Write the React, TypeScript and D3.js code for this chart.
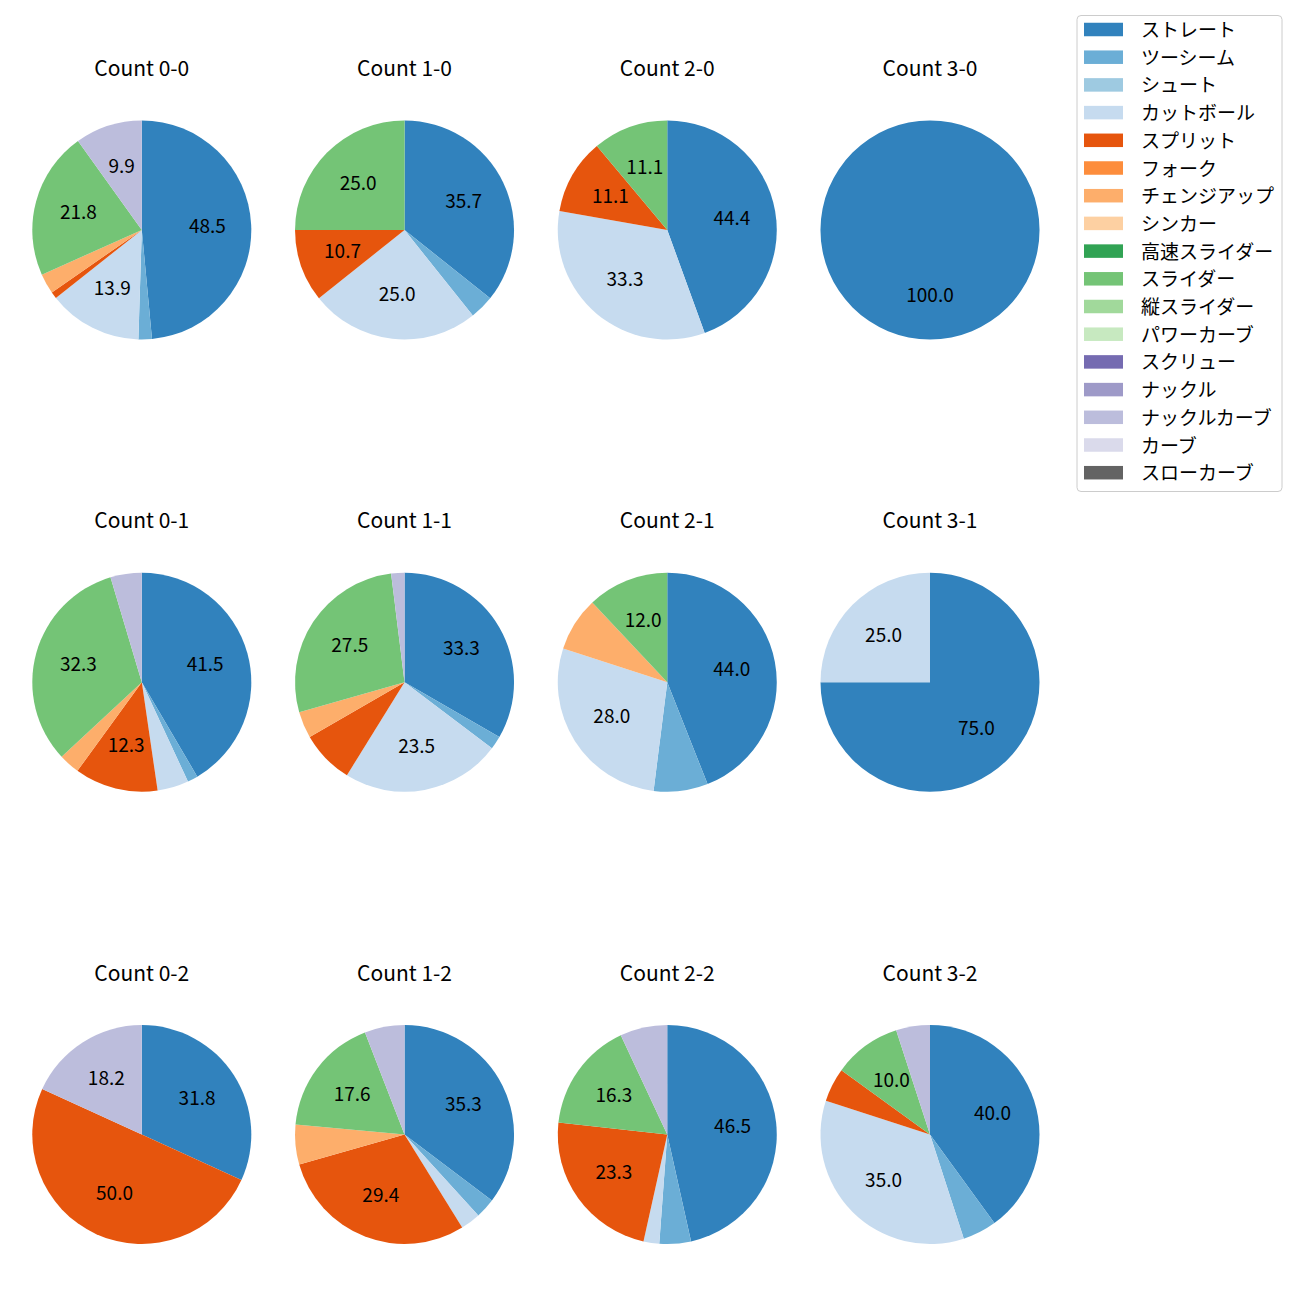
import React from "react";
import * as d3 from "d3";

const pitchTypes = [
  "ストレート", "ツーシーム", "シュート", "カットボール", "スプリット", "フォーク",
  "チェンジアップ", "シンカー", "高速スライダー", "スライダー", "縦スライダー",
  "パワーカーブ", "スクリュー", "ナックル", "ナックルカーブ", "カーブ", "スローカーブ",
];
const pitchColors = [
  "#3182bd", "#6baed6", "#9ecae1", "#c6dbef", "#e6550d", "#fd8d3c",
  "#fdae6b", "#fdd0a2", "#31a354", "#74c476", "#a1d99b",
  "#c7e9c0", "#756bb1", "#9e9ac8", "#bcbddc", "#dadaeb", "#636363",
];

// pitch counts per ball-strike count, in pitchTypes order
const count00 = [49, 2, 0, 14, 1, 0, 3, 0, 0, 22, 0, 0, 0, 0, 10, 0, 0];
const count10 = [10, 1, 0, 7, 3, 0, 0, 0, 0, 7, 0, 0, 0, 0, 0, 0, 0];
const count20 = [4, 0, 0, 3, 1, 0, 0, 0, 0, 1, 0, 0, 0, 0, 0, 0, 0];
const count30 = [1, 0, 0, 0, 0, 0, 0, 0, 0, 0, 0, 0, 0, 0, 0, 0, 0];
const count01 = [27, 1, 0, 3, 8, 0, 2, 0, 0, 21, 0, 0, 0, 0, 3, 0, 0];
const count11 = [17, 1, 0, 12, 4, 0, 2, 0, 0, 14, 0, 0, 0, 0, 1, 0, 0];
const count21 = [11, 2, 0, 7, 0, 0, 2, 0, 0, 3, 0, 0, 0, 0, 0, 0, 0];
const count31 = [3, 0, 0, 1, 0, 0, 0, 0, 0, 0, 0, 0, 0, 0, 0, 0, 0];
const count02 = [7, 0, 0, 0, 11, 0, 0, 0, 0, 0, 0, 0, 0, 0, 4, 0, 0];
const count12 = [12, 1, 0, 1, 10, 0, 2, 0, 0, 6, 0, 0, 0, 0, 2, 0, 0];
const count22 = [20, 2, 0, 1, 10, 0, 0, 0, 0, 7, 0, 0, 0, 0, 3, 0, 0];
const count32 = [8, 1, 0, 7, 1, 0, 0, 0, 0, 2, 0, 0, 0, 0, 1, 0, 0];

const panelTitles = [
  ["Count 0-0", "Count 1-0", "Count 2-0", "Count 3-0"],
  ["Count 0-1", "Count 1-1", "Count 2-1", "Count 3-1"],
  ["Count 0-2", "Count 1-2", "Count 2-2", "Count 3-2"],
];
const panelData = [
  [count00, count10, count20, count30],
  [count01, count11, count21, count31],
  [count02, count12, count22, count32],
];

const FONT = "'Noto Sans CJK JP', 'Noto Sans', sans-serif";
const W = 1300;
const H = 1300;
const R = 109.5;
const colX = d3.scaleLinear().domain([0, 3]).range([141.8, 930]);
const rowY = d3.scaleLinear().domain([0, 2]).range([230, 1134.5]);

function Pie({ values, cx, cy, title }: { values: number[]; cx: number; cy: number; title: string }) {
  const total = d3.sum(values);
  const items = values
    .map((v, i) => ({ v, i }))
    .filter((d) => d.v > 0);
  const pie = d3
    .pie<{ v: number; i: number }>()
    .value((d) => d.v)
    .sort(null)
    .startAngle(0)
    .endAngle(2 * Math.PI);
  const arcs = pie(items);
  const arc = d3.arc<d3.PieArcDatum<{ v: number; i: number }>>().innerRadius(0).outerRadius(R);
  const labelArc = d3
    .arc<d3.PieArcDatum<{ v: number; i: number }>>()
    .innerRadius(R * 0.6)
    .outerRadius(R * 0.6);
  return (
    <g>
      <text x={cx} y={cy - 163} textAnchor="middle" dominantBaseline="central" fontSize={21} fontFamily={FONT} fill="#000">
        {title}
      </text>
      <g transform={`translate(${cx},${cy})`}>
        {arcs.map((a) => (
          <path key={a.data.i} d={arc(a) || ""} fill={pitchColors[a.data.i]} />
        ))}
        {arcs.map((a) => {
          const pct = (a.data.v / total) * 100;
          if (pct < 9) return null;
          let [lx, ly] = labelArc.centroid(a);
          if (arcs.length === 1) {
            lx = 0;
            ly = R * 0.6;
          }
          return (
            <text key={"l" + a.data.i} x={lx} y={ly - 2.5} textAnchor="middle" dominantBaseline="central" fontSize={19} fontFamily={FONT} fill="#000">
              {pct.toFixed(1)}
            </text>
          );
        })}
      </g>
    </g>
  );
}

export default function App() {
  const legendX = 1077;
  const legendY = 15.5;
  const rowH = 27.7;
  return (
    <svg width={W} height={H} style={{ position: "absolute", left: 0, top: 0, display: "block", background: "#fff" }}>
      <rect x={0} y={0} width={W} height={H} fill="#fff" />
      {panelData.map((row, r) =>
        row.map((vals, c) => (
          <Pie key={`${r}-${c}`} values={vals} cx={colX(c)} cy={rowY(r)} title={panelTitles[r][c]} />
        ))
      )}
      <rect x={legendX} y={legendY} width={205} height={476} rx={4} fill="#fff" fillOpacity={0.8} stroke="#cccccc" strokeWidth={1} />
      {pitchTypes.map((name, i) => {
        const cy = 29.5 + i * rowH;
        return (
          <g key={name}>
            <rect x={1084} y={cy - 6.75} width={39} height={13.5} fill={pitchColors[i]} />
            <text x={1141} y={cy - 1} dominantBaseline="central" fontSize={19} fontFamily={FONT} fill="#000">
              {name}
            </text>
          </g>
        );
      })}
    </svg>
  );
}
